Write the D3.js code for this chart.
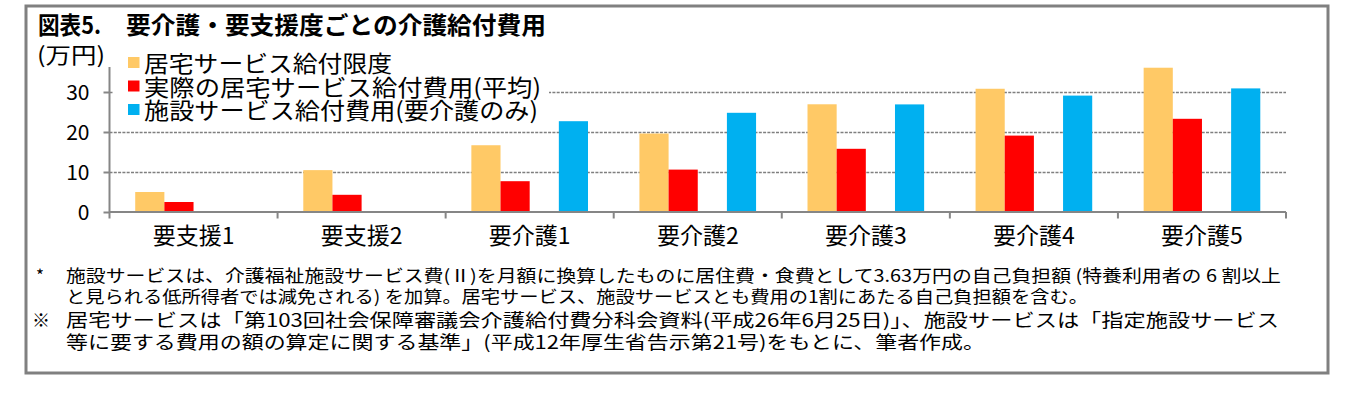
<!DOCTYPE html>
<html>
<head>
<meta charset="utf-8">
<script src="https://cdn.jsdelivr.net/npm/d3@7/dist/d3.min.js"></script>
<style>
  html, body { margin: 0; padding: 0; background: #fff; }
  svg { display: block; }
  text { font-family: "Noto Sans CJK JP", "Noto Sans", sans-serif; fill: #000; }
</style>
</head>
<body>
<svg id="chart" width="1349" height="396"></svg>
<script>
// ---- data ----
const categories = ["要支援1", "要支援2", "要介護1", "要介護2", "要介護3", "要介護4", "要介護5"];
const homeLimit  = [5.0, 10.47, 16.69, 19.62, 26.93, 30.81, 36.07];   // 居宅サービス給付限度
const homeActual = [2.5, 4.3, 7.7, 10.6, 15.8, 19.1, 23.3];           // 実際の居宅サービス給付費用(平均)
const facility   = [null, null, 22.7, 24.8, 26.9, 29.1, 30.9];        // 施設サービス給付費用(要介護のみ)
const yTicks = [0, 10, 20, 30];
const seriesNames = ["居宅サービス給付限度", "実際の居宅サービス給付費用(平均)", "施設サービス給付費用(要介護のみ)"];
const seriesColors = ["#FFC966", "#FF0000", "#00B0F0"];
const titleNo = "図表5.";
const titleText = "要介護・要支援度ごとの介護給付費用";
const unitText = "(万円)";
const notes = [
  {mark: "*", text: "施設サービスは、介護福祉施設サービス費(Ⅱ)を月額に換算したものに居住費・食費として3.63万円の自己負担額 (特養利用者の 6 割以上"},
  {mark: "",  text: "と見られる低所得者では減免される) を加算。居宅サービス、施設サービスとも費用の1割にあたる自己負担額を含む。"},
  {mark: "※", text: "居宅サービスは「第103回社会保障審議会介護給付費分科会資料(平成26年6月25日)」、施設サービスは「指定施設サービス"},
  {mark: "",  text: "等に要する費用の額の算定に関する基準」(平成12年厚生省告示第21号)をもとに、筆者作成。"}
];

// ---- layout ----
const svg = d3.select("#chart");
const plotL = 109.5, plotR = 1286, y0px = 212, yTopPx = 68;

svg.append("rect").attr("x", 26).attr("y", 6).attr("width", 1302).attr("height", 367)
  .attr("fill", "#fff").attr("stroke", "#808080").attr("stroke-width", 3);

const x = d3.scaleBand().domain(categories).range([plotL, plotR]).padding(0);
const bw = x.bandwidth();
const xi = d3.scaleBand().domain(["limit", "actual", "_gap", "facility"])
  .range([bw * 0.153, bw * 0.847]).padding(0);
const y = d3.scaleLinear().domain([0, 36]).range([y0px, yTopPx]);

// gridlines
const grid = svg.append("g").attr("transform", `translate(${plotL},0)`)
  .call(d3.axisLeft(y).tickValues(yTicks.filter(d => d > 0)).tickSize(-(plotR - plotL)).tickFormat(""));
grid.select(".domain").remove();
grid.selectAll("line").attr("stroke", "#7f7f7f").attr("stroke-width", 1.5).attr("stroke-dasharray", "3,1.3");

// bars
const rows = categories.map((c, i) => ({c, limit: homeLimit[i], actual: homeActual[i], facility: facility[i]}));
const keys = ["limit", "actual", "facility"];
const g = svg.append("g");
keys.forEach((k, si) => {
  g.selectAll(".bar-" + k).data(rows.filter(r => r[k] != null)).enter().append("rect")
    .attr("x", r => x(r.c) + xi(k))
    .attr("width", xi.bandwidth())
    .attr("y", r => y(r[k]))
    .attr("height", r => y(0) - y(r[k]))
    .attr("fill", seriesColors[si]);
});

// y axis
const ya = svg.append("g").attr("transform", `translate(${plotL},0)`)
  .call(d3.axisLeft(y).tickValues(yTicks).tickSize(6).tickPadding(14).tickFormat(d3.format("d")));
ya.select(".domain").attr("stroke", "#868686").attr("stroke-width", 2).attr("d", `M0,${y0px}V${yTopPx - 1}`);
ya.selectAll(".tick line").attr("stroke", "#868686").attr("stroke-width", 2);
ya.selectAll(".tick text").attr("font-family", "Liberation Sans, Arial, sans-serif").attr("font-size", 21)
  .attr("dy", "0.36em");

// x axis
const xa = svg.append("g").attr("transform", `translate(0,${y0px})`)
  .call(d3.axisBottom(x).tickSize(0).tickPadding(0));
xa.select(".domain").attr("stroke", "#868686").attr("stroke-width", 2).attr("d", `M${plotL},0H${plotR}`);
xa.selectAll(".tick text").attr("font-size", 23).attr("y", 32).attr("dy", 0);
const bounds = categories.map(c => x(c)).concat([plotR]);
svg.append("g").selectAll("line").data(bounds).enter().append("line")
  .attr("x1", d => d).attr("x2", d => d).attr("y1", y0px).attr("y2", y0px + 6.5)
  .attr("stroke", "#868686").attr("stroke-width", 2);

// legend
svg.append("rect").attr("x", 113).attr("y", 46).attr("width", 436).attr("height", 78).attr("fill", "#fff");
const lg = svg.append("g");
const legendBase = [72, 95.5, 119];
const legendEnd = [392, 541, 538];
seriesNames.forEach((n, i) => {
  lg.append("rect").attr("x", 128).attr("y", legendBase[i] - 15).attr("width", 11.5).attr("height", 11)
    .attr("fill", seriesColors[i]);
  lg.append("text").attr("x", 144).attr("y", legendBase[i]).attr("font-size", 23)
    .attr("textLength", legendEnd[i] - 144).attr("lengthAdjust", "spacingAndGlyphs").text(n);
});

// title & unit
svg.append("text").attr("x", 38).attr("y", 34).attr("font-size", 24).attr("font-weight", "bold")
  .attr("textLength", 63).attr("lengthAdjust", "spacingAndGlyphs").text(titleNo);
svg.append("text").attr("x", 126).attr("y", 34).attr("font-size", 24).attr("font-weight", "bold")
  .attr("textLength", 420).attr("lengthAdjust", "spacingAndGlyphs").text(titleText);
svg.append("text").attr("x", 37).attr("y", 63).attr("font-size", 22)
  .attr("textLength", 68).attr("lengthAdjust", "spacingAndGlyphs").text(unitText);

// notes
const noteBase = [282, 303, 326.5, 348.5];
const noteEnd = [1281, 1088, 1279, 985];
const noteSize = [17, 17, 18, 18];
notes.forEach((n, i) => {
  if (n.mark) svg.append("text").attr("x", n.mark === "*" ? 36 : 32).attr("y", noteBase[i])
    .attr("font-size", noteSize[i]).text(n.mark);
  svg.append("text").attr("x", 66).attr("y", noteBase[i]).attr("font-size", noteSize[i])
    .attr("textLength", noteEnd[i] - 66).attr("lengthAdjust", "spacingAndGlyphs").text(n.text);
});
</script>
</body>
</html>
